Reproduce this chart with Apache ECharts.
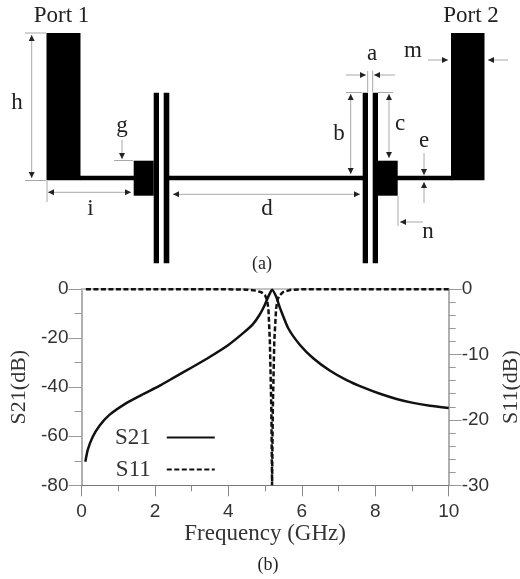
<!DOCTYPE html>
<html><head><meta charset="utf-8">
<style>html,body{margin:0;padding:0;background:#fff}#c{width:520px;height:579px}</style>
<script src="https://cdn.jsdelivr.net/npm/echarts@6/dist/echarts.min.js"></script>
</head><body><div id="c"></div>
<script>
// Chart values
const s21Freq = [0.105,0.17,0.3,0.49,0.76,1.21,1.67,2.12,2.55,3,3.5,4,4.4,4.67,4.85,4.99,5.09,5.19,5.3,5.41,5.63,5.95,6.31,6.77,7.22,7.67,8.13,8.58,9.03,9.49,10];
const s21Db = [-70.4,-65.6,-60.4,-55.7,-51.3,-46.6,-42.9,-39.5,-35.8,-32,-27.6,-22.8,-18,-14.3,-10.5,-6.5,-3,-0.3,-3.1,-7.9,-16,-22.8,-28.2,-33.3,-37.1,-40.1,-42.7,-44.8,-46.4,-47.6,-48.5];
const s11Freq = [0.12,2,4,4.5,4.75,4.9,5,5.05,5.09,5.13,5.17,5.19,5.21,5.25,5.3,5.34,5.39,5.48,5.7,6,8,10];
const s11Db = [-0.02,-0.02,-0.05,-0.1,-0.25,-0.5,-1,-1.6,-3,-8,-18.3,-30,-18.3,-8,-3,-1.6,-1,-0.5,-0.12,-0.05,-0.02,-0.02];
const leftTicks = [-80,-60,-40,-20,0];
const rightTicks = [-30,-20,-10,0];
const xLabels = [0,2,4,6,8,10];
const seriesNames = ['S21','S11'];

// Schematic (a)
const BLACK='#000', GREY='#a8a8a8';
const blocks=[[46.5,33,34,147.3],[451,33,33.5,147.3],[80,175.7,54,4.6],[397,175.7,55,4.6],[169,175.7,194,4.6],
 [133.7,160.7,20,35],[378,160.7,19.7,35],[153.7,92.7,5.3,170.6],[163.7,92.7,5.6,170.6],[362.7,92.7,5.3,170.6],[372.7,92.7,5.3,170.6]];
const guides=[[25,33,46,33],[25,180.5,46,180.5],[47,181,47,202],[114,160.5,133,160.5],[346,92.5,362,92.5],[378,92.5,393,92.5],
 [367.7,71,367.7,92],[372.7,71,372.7,92],[398,196,398,226]];
const arrows=[[31.7,35,31.7,178,1],[48,192.3,131,192.3,1],[122,140,122,159,0],[173,194.3,360,194.3,1],[350.7,94,350.7,174,1],
 [389,94,389,158,1],[346,75,366,75,0],[395,75,374,75,0],[424,153,424,175,0],[424,203,424,182,0],[423,222,400,222,0],[428,60,448,60,0],[508,60,488,60,0]];
const labels=[['Port 1',61.5,16],['Port 2',471,16],['h',17,103],['i',90.5,209],['g',122,126],['d',267,209],['b',339,134],['c',400,124],['a',372,54],['m',413,51],['e',424,141],['n',428,232],['(a)',262,264],['(b)',268,565]];

const g=[];
blocks.forEach(b=>g.push({type:'rect',shape:{x:b[0],y:b[1],width:b[2],height:b[3]},style:{fill:BLACK}}));
guides.forEach(l=>g.push({type:'line',shape:{x1:l[0],y1:l[1],x2:l[2],y2:l[3]},style:{stroke:GREY,lineWidth:1}}));
function head(x,y,dx,dy){const s=6,w=3,px=-dy,py=dx;
 g.push({type:'polygon',shape:{points:[[x,y],[x-dx*s+px*w,y-dy*s+py*w],[x-dx*s-px*w,y-dy*s-py*w]]},style:{fill:'#222'}});}
arrows.forEach(a=>{const L=Math.hypot(a[2]-a[0],a[3]-a[1]),dx=(a[2]-a[0])/L,dy=(a[3]-a[1])/L;
 g.push({type:'line',shape:{x1:a[0],y1:a[1],x2:a[2],y2:a[3]},style:{stroke:GREY,lineWidth:1}});
 head(a[2],a[3],dx,dy); if(a[4]) head(a[0],a[1],-dx,-dy);});
labels.forEach(t=>g.push({type:'text',style:{text:t[0],x:t[1],y:t[2],align:'center',verticalAlign:'middle',font:(t[0][0]==='('?'18':'23')+'px "Liberation Serif"',fill:'#222'}}));

const sans='"Liberation Sans"', serif='"Liberation Serif"';
const yAxis=(pos,min,major,minorN,name,ticks,rot)=>({type:'value',position:pos,min,max:0,interval:major,name,nameLocation:'middle',nameGap:pos==='left'?49:50,nameRotate:rot,
 nameTextStyle:{fontFamily:serif,fontSize:22,color:'#333'},
 axisLine:{show:true,onZero:false,lineStyle:{color:'#b0b0b0',width:2}},
 axisTick:{show:true,inside:false,length:13,lineStyle:{color:'#999',width:1}},
 minorTick:{show:true,splitNumber:minorN,length:7,lineStyle:{color:'#999',width:1}},
 axisLabel:{show:true,margin:13,fontFamily:sans,fontSize:19,color:'#333',customValues:ticks},
 splitLine:{show:false}});

const chart=echarts.init(document.getElementById('c'),null,{renderer:'canvas'});
chart.setOption({animation:false,backgroundColor:'#fff',graphic:g,
 grid:{left:81.5,right:71.3,top:289,bottom:93.7,containLabel:false,outerBoundsMode:'none'},
 legend:{orient:'vertical',left:110,top:421,align:'right',itemWidth:48,itemHeight:10,itemGap:9,itemStyle:{opacity:0},
  data:seriesNames,textStyle:{fontFamily:serif,fontSize:23,color:'#333',padding:[0,11,0,0]}},
 xAxis:[{type:'value',min:0,max:10,interval:2,position:'bottom',name:'Frequency (GHz)',nameLocation:'middle',nameGap:33,
   nameTextStyle:{fontFamily:serif,fontSize:23,color:'#333'},
   axisLine:{onZero:false,lineStyle:{color:'#777',width:1}},
   axisTick:{show:true,length:11,lineStyle:{color:'#888'}},
   minorTick:{show:true,splitNumber:2,length:6,lineStyle:{color:'#888'}},
   axisLabel:{margin:17,fontFamily:sans,fontSize:19,color:'#333',customValues:xLabels},
   splitLine:{show:false}},
  {type:'value',min:0,max:10,position:'top',axisLine:{onZero:false,lineStyle:{color:'#c4c4c4',width:2}},axisTick:{show:false},axisLabel:{show:false},splitLine:{show:false}}],
 yAxis:[yAxis('left',-80,20,2,'S21(dB)',leftTicks,90),yAxis('right',-30,10,5,'S11(dB)',rightTicks,90)],
 series:[
  {name:'S21',type:'line',yAxisIndex:0,xAxisIndex:0,showSymbol:false,symbol:'none',smooth:0.2,clip:false,
   lineStyle:{color:'#111',width:2.5},itemStyle:{color:'#111'},data:s21Freq.map((f,i)=>[f,s21Db[i]])},
  {name:'S11',type:'line',yAxisIndex:1,xAxisIndex:0,showSymbol:false,symbol:'none',clip:false,
   lineStyle:{color:'#111',width:2.5,type:[5,2.5]},itemStyle:{color:'#111'},data:s11Freq.map((f,i)=>[f,s11Db[i]])}
 ]});
</script></body></html>
